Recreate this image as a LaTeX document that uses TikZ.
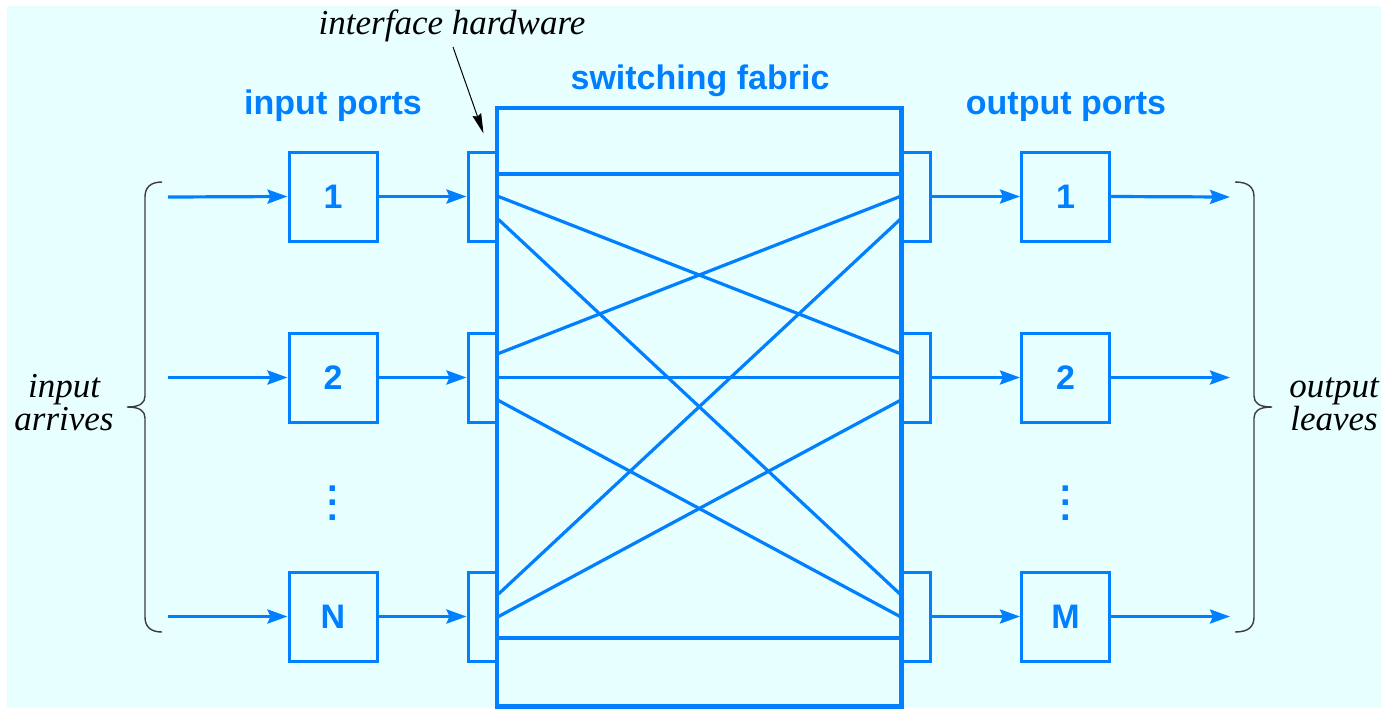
\documentclass[tikz,border=0pt]{standalone}
\usepackage{fontspec}
\setmainfont{Liberation Serif}
\setsansfont{Liberation Sans}
\usetikzlibrary{arrows.meta}
\definecolor{bg}{RGB}{232,255,255}
\definecolor{fblue}{RGB}{0,128,255}
\definecolor{brgray}{RGB}{60,60,60}
\tikzset{
  lbl/.style={text=fblue,font=\sffamily\bfseries\fontsize{17}{20}\selectfont,inner sep=0pt},
  ital/.style={text=black,font=\itshape\fontsize{17.5}{16.5}\selectfont,inner sep=0pt,align=center},
  portbox/.style={draw=fblue,line width=1.5pt,minimum width=44pt,minimum height=44.5pt,inner sep=0pt,
    text=fblue,font=\sffamily\bfseries\fontsize{17}{20}\selectfont},
  ifbox/.style={draw=fblue,line width=1.5pt,minimum width=14.5pt,minimum height=44.5pt,inner sep=0pt},
  fabricbox/.style={minimum width=202pt,minimum height=299pt,inner sep=0pt},
  conn/.style={draw=fblue,line width=1.6pt},
  arr/.style={conn,-{Stealth[length=10pt,width=7pt,inset=1.5pt]}},
  harr/.style={draw=black,line width=0.5pt,-{Stealth[length=10pt,width=4.5pt,inset=1pt]}},
  bracestyle/.style={draw=brgray,line width=0.7pt},
  dots/.style={text=fblue,font=\sffamily\bfseries\fontsize{19}{7.3}\selectfont,inner sep=0pt,align=center}
}
\begin{document}
\begin{tikzpicture}[x=0.5pt,y=-0.5pt]
\useasboundingbox (0,0) rectangle (1381,708);
\fill[white] (0,0) rectangle (1381,708);
\fill[bg] (7,6) rectangle (1381,708);
% fabric
\node[fabricbox] (fab) at (699,407) {};
% interface boxes
\node[ifbox] (ifl1) at (482.5,196.5) {};
\node[ifbox] (ifl2) at (482.5,377.5) {};
\node[ifbox] (ifl3) at (482.5,616.5) {};
\node[ifbox] (ifr1) at (916,196.5) {};
\node[ifbox] (ifr2) at (916,377.5) {};
\node[ifbox] (ifr3) at (916,616.5) {};
\draw[fblue,line width=2.1pt] (fab.north west) rectangle (fab.south east);
% port boxes
\node[portbox] (ip1) at (333,196.5) {1};
\node[portbox] (ip2) at (333,377.5) {2};
\node[portbox] (ip3) at (333,616.5) {N};
\node[portbox] (op1) at (1065.5,196.5) {1};
\node[portbox] (op2) at (1065.5,377.5) {2};
\node[portbox] (op3) at (1065.5,616.5) {M};
% dots
\node[dots] (d1) at (333,503) {.\\.\\.};
\node[dots] (d2) at (1065.5,503) {.\\.\\.};
% labels
\node[lbl,anchor=base] (lin) at (333,114) {input ports};
\node[lbl,anchor=base] (lfab) at (700,89) {switching fabric};
\node[lbl,anchor=base] (lout) at (1066,114) {output ports};
\node[ital,anchor=base] (lif) at (452,34) {interface hardware};
\node[ital,anchor=base] (lia) at (64,430) {input\\arrives};
\node[ital,anchor=base] (lol) at (1334,430) {output\\leaves};
% input sources and output sinks
\coordinate (s1) at (168,197);
\coordinate (s2) at (168,377.5);
\coordinate (s3) at (168,616.5);
\coordinate (t1) at (1230,197);
\coordinate (t2) at (1230,377.5);
\coordinate (t3) at (1230,616.5);
\draw[arr] (s1) -- (ip1.west);
\draw[arr] (s2) -- (ip2.west);
\draw[arr] (s3) -- (ip3.west);
\draw[arr] (ip1.east) -- (ifl1.west);
\draw[arr] (ip2.east) -- (ifl2.west);
\draw[arr] (ip3.east) -- (ifl3.west);
\draw[arr] (ifr1.east) -- (op1.west);
\draw[arr] (ifr2.east) -- (op2.west);
\draw[arr] (ifr3.east) -- (op3.west);
\draw[arr] (op1.east) -- (t1);
\draw[arr] (op2.east) -- (t2);
\draw[arr] (op3.east) -- (t3);
% fabric interconnect
\draw[conn] ([yshift=11.25pt]ifl1.east) -- ([yshift=11.25pt]ifr1.west);
\draw[conn] (ifl1.east) -- ([yshift=12pt]ifr2.west);
\draw[conn] ([yshift=-11.5pt]ifl1.east) -- ([yshift=11.25pt]ifr3.west);
\draw[conn] ([yshift=12pt]ifl2.east) -- (ifr1.west);
\draw[conn] (ifl2.east) -- (ifr2.west);
\draw[conn] ([yshift=-11.5pt]ifl2.east) -- (ifr3.west);
\draw[conn] ([yshift=11.25pt]ifl3.east) -- ([yshift=-11.5pt]ifr1.west);
\draw[conn] (ifl3.east) -- ([yshift=-11.5pt]ifr2.west);
\draw[conn] ([yshift=-10.75pt]ifl3.east) -- ([yshift=-10.75pt]ifr3.west);
% interface hardware pointer
\coordinate (hs) at (453,47);
\draw[harr] (hs) -- ([xshift=0.5pt,yshift=8.5pt]ifl1.north);
% braces
\draw[bracestyle] (162,182) .. controls (151,182) and (145,187) .. (145,197)
  -- (145,396) .. controls (145,403) and (140,407) .. (127,407)
  .. controls (140,407) and (145,411) .. (145,418)
  -- (145,617) .. controls (145,627) and (151,632) .. (162,632);
\draw[bracestyle] (1235,182) .. controls (1248,182) and (1254,187) .. (1254,197)
  -- (1254,396) .. controls (1254,403) and (1259,407) .. (1272,407)
  .. controls (1259,407) and (1254,411) .. (1254,418)
  -- (1254,617) .. controls (1254,627) and (1248,632) .. (1235,632);
\end{tikzpicture}
\end{document}
